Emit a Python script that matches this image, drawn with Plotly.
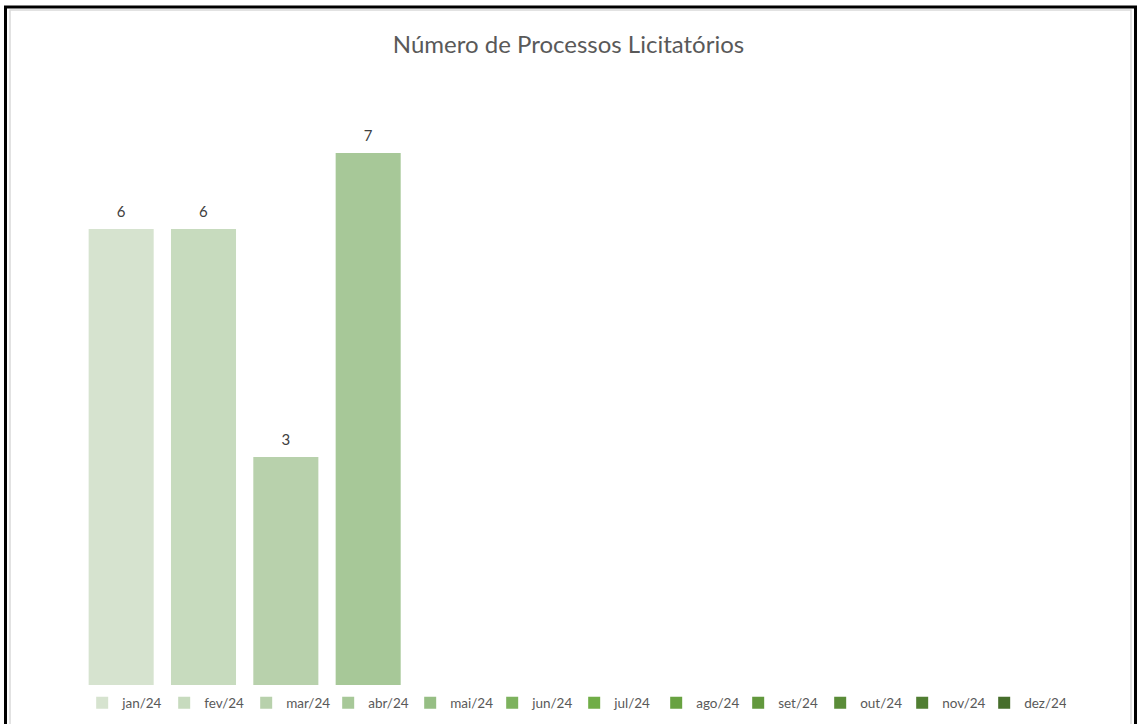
import plotly.graph_objects as go

months = ["jan/24", "fev/24", "mar/24", "abr/24", "mai/24", "jun/24",
          "jul/24", "ago/24", "set/24", "out/24", "nov/24", "dez/24"]
values = [6, 6, 3, 7, None, None, None, None, None, None, None, None]
colors = ["#D6E3CF", "#C7DBBE", "#B8D1AC", "#A7C898", "#96BE84", "#7DB25E",
          "#70AD47", "#68A241", "#62983D", "#5A8C38", "#507E32", "#466E2B"]
title_text = "Número de Processos Licitatórios"

W, H = 1137, 724
ml, mr, mt, mb = 80, 69, 77, 39
pw, ph = W - ml - mr, H - mt - mb
FONT = "Lato, Open Sans, sans-serif"

def px_x(x):
    return (x - ml) / pw

def px_y(y):
    return (H - mb - y) / ph

fig = go.Figure()
for m, v, c in zip(months, values, colors):
    fig.add_trace(go.Bar(
        x=[m], y=[v], name=m, marker=dict(color=c, line=dict(width=0)),
        texttemplate="<span style='font-size:15px'>%{y}</span><br> ",
        textposition="outside",
        textfont=dict(family=FONT, size=6, color="#404040"),
        cliponaxis=False, showlegend=True,
    ))

fig.update_layout(
    width=W, height=H,
    margin=dict(l=ml, r=mr, t=mt, b=mb, autoexpand=False),
    paper_bgcolor="white", plot_bgcolor="white",
    barmode="overlay", bargap=0.21,
    title=dict(text=title_text, x=0.5, xanchor="center", xref="container",
               y=1 - 45 / H, yanchor="middle", yref="container",
               font=dict(family=FONT, size=24, color="#595959")),
    xaxis=dict(type="category", categoryorder="array", categoryarray=months,
               range=[-0.5, 11.5], showticklabels=False, showgrid=False,
               zeroline=False, showline=False, ticks="", fixedrange=True),
    yaxis=dict(range=[0, 8], showticklabels=False, showgrid=False,
               zeroline=False, showline=False, ticks=""),
    legend=dict(orientation="h", xref="container", yref="container",
                x=0.505, xanchor="center", y=1 - 703 / H, yanchor="middle",
                entrywidth=37, entrywidthmode="pixels",
                borderwidth=8, bordercolor="rgba(0,0,0,0)",
                font=dict(family=FONT, size=13.5, color="#595959"),
                itemclick=False, bgcolor="rgba(0,0,0,0)", tracegroupgap=0),
    font=dict(family=FONT),
    shapes=[
        dict(type="rect", xref="paper", yref="paper",
             x0=px_x(10), x1=px_x(1131), y0=px_y(730), y1=px_y(10),
             line=dict(color="#D9D9D9", width=1.5), fillcolor="rgba(0,0,0,0)", layer="below"),
        dict(type="rect", xref="paper", yref="paper",
             x0=px_x(5.5), x1=px_x(1135.5), y0=px_y(735), y1=px_y(7),
             line=dict(color="black", width=3), fillcolor="rgba(0,0,0,0)", layer="above"),
    ],
)

fig.write_html("out.html", config={"displayModeBar": False},
               post_script="document.body.style.margin='0';document.body.style.overflow='hidden';")
